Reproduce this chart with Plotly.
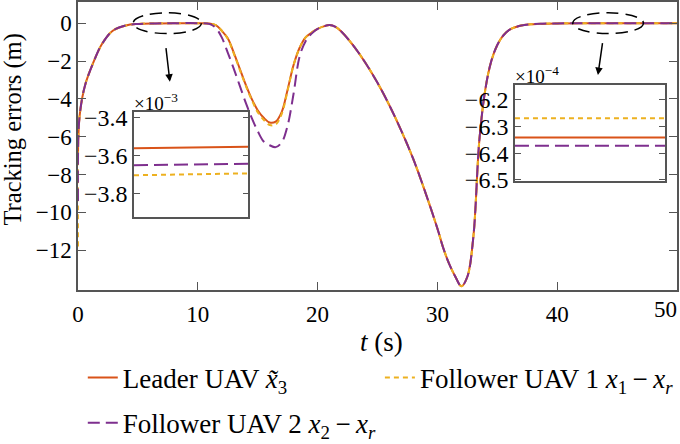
import plotly.graph_objects as go

# ---- data ----
# time samples (s)
t = [0, 0.03, 0.17, 0.58, 1.3, 2.0, 2.9, 4.0, 5.0, 6.5, 8, 10, 11, 11.5, 12, 12.5,
     13, 13.5, 14, 14.5, 15, 15.5, 16, 16.5, 17, 17.5, 18, 18.5, 19, 19.5, 20, 20.5,
     21, 21.5, 22, 23, 24, 25, 26, 27, 28, 29, 30, 30.5, 31, 31.5, 32, 32.5, 33,
     33.5, 34, 34.5, 35, 35.5, 36, 37, 38, 40, 43, 46, 50]

leader = [-7.0, -6.0, -4.7, -3.3, -2.05, -1.1, -0.4, -0.12, -0.04, -0.01, 0, 0, -0.02, -0.1, -0.4, -0.8,
          -1.55, -2.4, -3.25, -4.0, -4.6, -5.0, -5.25, -5.2, -4.7, -3.5, -2.2, -1.3, -0.75, -0.5, -0.3, -0.17,
          -0.1, -0.2, -0.45, -1.2, -2.1, -3.15, -4.35, -5.7, -7.2, -8.95, -10.85, -11.9, -12.75, -13.4, -13.9, -13.4, -11.3,
          -6.2, -3.5, -2.0, -1.15, -0.65, -0.35, -0.12, -0.05, -0.01, 0, 0, 0]

follower1 = [-11.8, -6.0, -4.7, -3.3, -2.05, -1.1, -0.4, -0.12, -0.04, -0.01, 0, 0, -0.02, -0.1, -0.4, -0.82,
             -1.6, -2.45, -3.3, -4.05, -4.7, -5.1, -5.38, -5.35, -4.8, -3.55, -2.2, -1.3, -0.75, -0.5, -0.3, -0.17,
             -0.1, -0.2, -0.45, -1.2, -2.1, -3.15, -4.35, -5.7, -7.2, -8.95, -10.85, -11.9, -12.75, -13.4, -13.9, -13.4, -11.3,
             -6.2, -3.5, -2.0, -1.15, -0.65, -0.35, -0.12, -0.05, -0.01, 0, 0, 0]

follower2 = [-9.4, -6.0, -4.7, -3.3, -2.05, -1.1, -0.4, -0.12, -0.04, -0.01, 0, 0, -0.05, -0.25, -0.75, -1.55,
             -2.4, -3.3, -4.2, -5.0, -5.7, -6.25, -6.45, -6.55, -6.3, -5.4, -3.7, -1.75, -0.95, -0.55, -0.3, -0.17,
             -0.1, -0.2, -0.45, -1.2, -2.1, -3.15, -4.35, -5.7, -7.2, -8.95, -10.85, -11.9, -12.75, -13.4, -13.9, -13.4, -11.3,
             -6.2, -3.5, -2.0, -1.15, -0.65, -0.35, -0.12, -0.05, -0.01, 0, 0, 0]

# zoomed window 1 (x1e-3)
zoom1_t = [5, 10]
zoom1_leader = [-3.563, -3.555]
zoom1_f1 = [-3.705, -3.695]
zoom1_f2 = [-3.652, -3.645]

# zoomed window 2 (x1e-4)
zoom2_t = [42, 48]
zoom2_leader = [-6.341, -6.341]
zoom2_f1 = [-6.269, -6.269]
zoom2_f2 = [-6.372, -6.372]

x_ticks = [0, 10, 20, 30, 40, 50]
y_ticks = [0, -2, -4, -6, -8, -10, -12]

names = ['Leader UAV <i>x\u0303</i><sub>3</sub>',
         'Follower UAV 1 <i>x</i><sub>1</sub>\u2009\u2212\u2009<i>x</i><sub><i>r</i></sub>',
         'Follower UAV 2 <i>x</i><sub>2</sub>\u2009\u2212\u2009<i>x</i><sub><i>r</i></sub>']

C_LEAD = '#D95319'
C_F1 = '#EDB120'
C_F2 = '#7E2F8E'
FONT = 'Times New Roman, Liberation Serif, serif'
AX = '#555555'
TICKFONT = dict(family=FONT, size=23, color='black')

fig = go.Figure()

# main curves
fig.add_trace(go.Scatter(x=t, y=leader, mode='lines', name=names[0], legend='legend',
                         line=dict(color=C_LEAD, width=2, shape='spline')))
fig.add_trace(go.Scatter(x=t, y=follower1, mode='lines', name=names[1], legend='legend2',
                         line=dict(color=C_F1, width=2, dash='5px,4px', shape='spline')))
fig.add_trace(go.Scatter(x=t, y=follower2, mode='lines', name=names[2], legend='legend3',
                         line=dict(color=C_F2, width=2, dash='12px,6px', shape='spline')))
# empty trace so the overlay axis carrying the last x label gets drawn
fig.add_trace(go.Scatter(x=[], y=[], xaxis='x4', yaxis='y', showlegend=False))

# inset 1
fig.add_trace(go.Scatter(x=zoom1_t, y=zoom1_leader, mode='lines', xaxis='x2', yaxis='y2',
                         showlegend=False, line=dict(color=C_LEAD, width=2)))
fig.add_trace(go.Scatter(x=zoom1_t, y=zoom1_f1, mode='lines', xaxis='x2', yaxis='y2',
                         showlegend=False, line=dict(color=C_F1, width=2, dash='5px,4px')))
fig.add_trace(go.Scatter(x=zoom1_t, y=zoom1_f2, mode='lines', xaxis='x2', yaxis='y2',
                         showlegend=False, line=dict(color=C_F2, width=2, dash='14px,6px')))

# inset 2
fig.add_trace(go.Scatter(x=zoom2_t, y=zoom2_leader, mode='lines', xaxis='x3', yaxis='y3',
                         showlegend=False, line=dict(color=C_LEAD, width=2)))
fig.add_trace(go.Scatter(x=zoom2_t, y=zoom2_f1, mode='lines', xaxis='x3', yaxis='y3',
                         showlegend=False, line=dict(color=C_F1, width=2, dash='5px,4px')))
fig.add_trace(go.Scatter(x=zoom2_t, y=zoom2_f2, mode='lines', xaxis='x3', yaxis='y3',
                         showlegend=False, line=dict(color=C_F2, width=2, dash='14px,6px')))

# dashed ellipses + arrows marking the zoomed regions
for x0, x1 in [(4.6, 10.3), (41.3, 47.2)]:
    fig.add_shape(type='circle', xref='x', yref='y', x0=x0, x1=x1, y0=-0.55, y1=0.55,
                  line=dict(color='black', width=1.5, dash='12px,7px'))
for (tx, ty), (hx, hy) in [((7.33, -1.24), (7.67, -3.09)), ((43.8, -0.97), (43.4, -2.74))]:
    fig.add_annotation(x=hx, y=hy, ax=tx, ay=ty, xref='x', yref='y', axref='x', ayref='y',
                       showarrow=True, arrowhead=2, arrowsize=1, arrowwidth=1.5,
                       arrowcolor='black', text='')

# exponent labels of the insets
fig.add_annotation(x=0.0935, y=0.6191, xref='paper', yref='paper', xanchor='left', yanchor='bottom',
                   text='\u00d710<sup>\u22123</sup>', showarrow=False, font=dict(family=FONT, size=19),
                   xshift=-2, yshift=-4)
fig.add_annotation(x=0.7295, y=0.7118, xref='paper', yref='paper', xanchor='left', yanchor='bottom',
                   text='\u00d710<sup>\u22124</sup>', showarrow=False, font=dict(family=FONT, size=19),
                   xshift=-2, yshift=-4)

# axis titles
fig.add_annotation(x=-0.1077, y=0.559, xref='paper', yref='paper', xanchor='center', yanchor='middle',
                   text='Tracking errors (m)', textangle=-90, showarrow=False,
                   font=dict(family=FONT, size=24.5))
fig.add_annotation(x=0.5075, y=-0.18, xref='paper', yref='paper', xanchor='center', yanchor='middle',
                   text='<i>t</i> (s)', showarrow=False, font=dict(family=FONT, size=27))

fig.update_layout(
    width=680, height=444,
    margin=dict(l=78, r=3, t=2, b=154, autoexpand=False),
    paper_bgcolor='white', plot_bgcolor='white',
    font=dict(family=FONT, size=23, color='black'),
    xaxis=dict(range=[0, 50], tickvals=x_ticks,
               ticktext=['0', '10', '20', '30', '40', ''],
               tickfont=TICKFONT,
               ticks='inside', ticklen=8, tickcolor=AX, showline=True, linecolor=AX, linewidth=1.5,
               mirror='ticks', showgrid=False, zeroline=False, ticklabelstandoff=3),
    # overlay axis: only the "50" label, right-aligned at its tick so it stays inside the page
    xaxis4=dict(overlaying='x', anchor='y', side='bottom', range=[0, 50], tickvals=[50], ticktext=['50'],
                ticklabelposition='outside left', tickfont=TICKFONT, ticks='', showline=False,
                showgrid=False, zeroline=False, ticklabelstandoff=3),
    yaxis=dict(range=[-14.1, 1.12], tickvals=y_ticks, ticktext=['0'] + ['\u2212' + str(-v) for v in y_ticks[1:]],
               tickfont=TICKFONT,
               ticks='inside', ticklen=8, tickcolor=AX, showline=True, linecolor=AX, linewidth=1.5,
               mirror='ticks', showgrid=False, zeroline=False),
    xaxis2=dict(domain=[0.0935, 0.2843], anchor='y2', range=[5, 10], showticklabels=False, ticks='',
                showline=True, linecolor=AX, linewidth=1.5, mirror=True, showgrid=False, zeroline=False),
    yaxis2=dict(domain=[0.2545, 0.6191], anchor='x2', range=[-3.923, -3.3705],
                tickvals=[-3.4, -3.6, -3.8], ticktext=['\u22123.4', '\u22123.6', '\u22123.8'],
                ticks='inside', ticklen=6, tickcolor=AX, showline=True, linecolor=AX, linewidth=1.5,
                mirror='ticks', showgrid=False, zeroline=False, tickfont=dict(family=FONT, size=24)),
    xaxis3=dict(domain=[0.7295, 0.98], anchor='y3', range=[42, 48], showticklabels=False, ticks='',
                showline=True, linecolor=AX, linewidth=1.5, mirror=True, showgrid=False, zeroline=False),
    yaxis3=dict(domain=[0.3785, 0.7118], anchor='x3', range=[-6.504, -6.144],
                tickvals=[-6.2, -6.3, -6.4, -6.5], ticktext=['\u22126.2', '\u22126.3', '\u22126.4', '\u22126.5'],
                ticks='inside', ticklen=6, tickcolor=AX, showline=True, linecolor=AX, linewidth=1.5,
                mirror='ticks', showgrid=False, zeroline=False, tickfont=dict(family=FONT, size=24)),
    legend=dict(x=0.008, y=-0.3056, xanchor='left', yanchor='middle', bgcolor='rgba(0,0,0,0)',
                font=dict(family=FONT, size=27)),
    legend2=dict(x=0.504, y=-0.3056, xanchor='left', yanchor='middle', bgcolor='rgba(0,0,0,0)',
                 font=dict(family=FONT, size=27)),
    legend3=dict(x=0.008, y=-0.4623, xanchor='left', yanchor='middle', bgcolor='rgba(0,0,0,0)',
                 font=dict(family=FONT, size=27)),
)

# drop the default page margin so the figure sits at the window's corner
fig.write_html('out.html', config={'displayModeBar': False},
               post_script="document.body.style.margin='0';")
